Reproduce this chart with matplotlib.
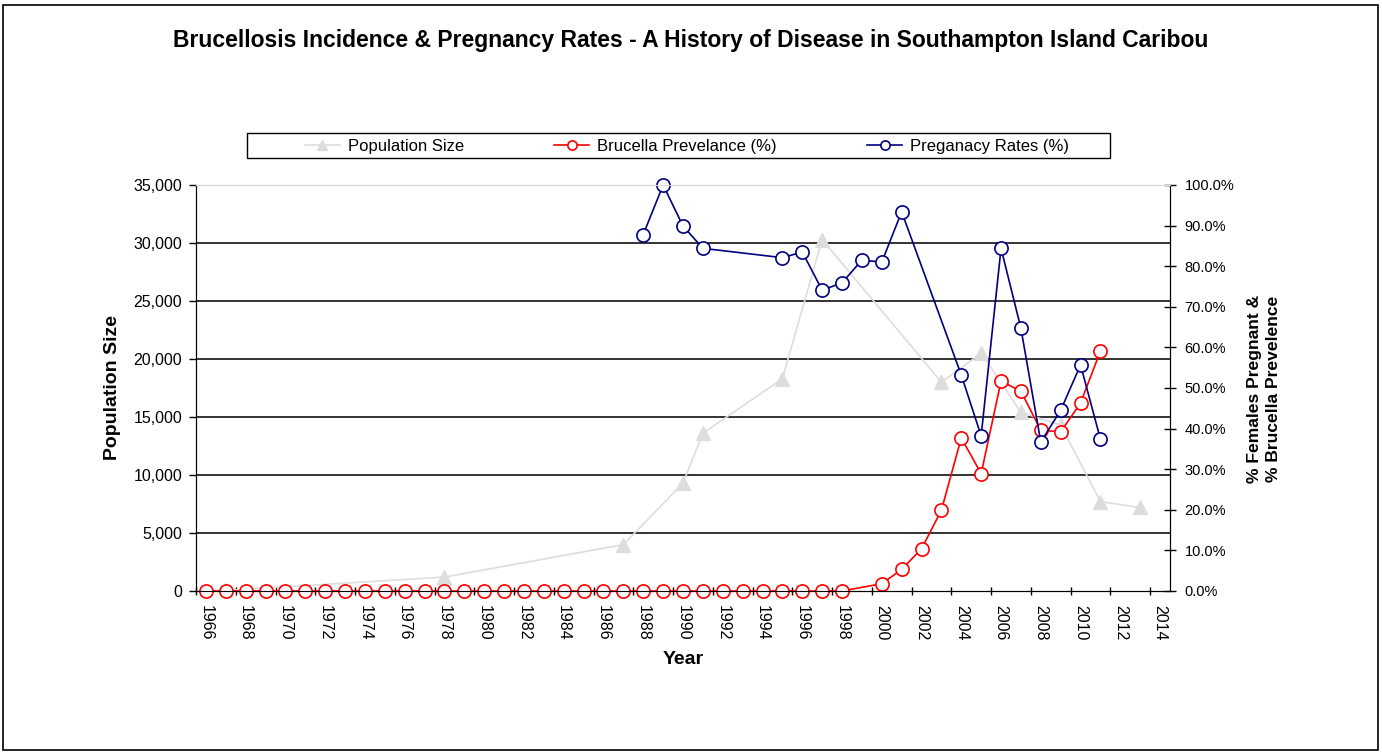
import matplotlib
matplotlib.use('Agg')
import matplotlib.pyplot as plt
from matplotlib.patches import Rectangle
from matplotlib.ticker import FuncFormatter, MultipleLocator

plt.rcParams['font.family'] = ['Liberation Sans', 'DejaVu Sans']

# category axis: one slot per year
year_labels = [1966, 1968, 1970, 1972, 1974, 1976, 1978, 1980, 1982, 1984, 1986, 1988,
               1990, 1992, 1994, 1996, 1998, 2000, 2002, 2004, 2006, 2008, 2010, 2012, 2014]

# population size (left axis)
pop_years = [1967, 1978, 1987, 1990, 1991, 1995, 1997, 2003, 2005, 2007, 2009, 2011, 2013]
pop_size = [48, 1200, 4000, 9300, 13600, 18300, 30300, 18000, 20500, 15400, 14300, 7700, 7200]

# brucella prevalence (%) (right axis)
bru_years = [1966, 1967, 1968, 1969, 1970, 1971, 1972, 1973, 1974, 1975, 1976, 1977,
             1978, 1979, 1980, 1981, 1982, 1983, 1984, 1985, 1986, 1987, 1988, 1989,
             1990, 1991, 1992, 1993, 1994, 1995, 1996, 1997, 1998,
             2000, 2001, 2002, 2003, 2004, 2005, 2006, 2007, 2008, 2009, 2010, 2011]
bru_prev = [0, 0, 0, 0, 0, 0, 0, 0, 0, 0, 0, 0,
            0, 0, 0, 0, 0, 0, 0, 0, 0, 0, 0, 0,
            0, 0, 0, 0, 0, 0, 0, 0, 0,
            1.8, 5.3, 10.4, 19.9, 37.7, 28.9, 51.7, 49.2, 39.6, 39.2, 46.3, 59.1]

# pregnancy rates (%) (right axis)
preg_years = [1988, 1989, 1990, 1991, 1995, 1996, 1997, 1998, 1999, 2000, 2001,
              2004, 2005, 2006, 2007, 2008, 2009, 2010, 2011]
preg_rate = [87.8, 100.0, 89.9, 84.4, 82.1, 83.5, 74.1, 75.9, 81.5, 81.0, 93.4,
             53.2, 38.2, 84.4, 64.7, 36.7, 44.5, 55.7, 37.4]

W, H = 1382, 753
fig = plt.figure(figsize=(W / 100, H / 100), dpi=100)
# outer chart border
fig.patches.append(Rectangle((3 / W, 3 / H), (W - 7) / W, (H - 8) / H, transform=fig.transFigure,
                             fill=False, edgecolor='black', linewidth=1.2))
# legend box
fig.patches.append(Rectangle((247 / W, 1 - 158 / H), (1110 - 247) / W, 25 / H, transform=fig.transFigure,
                             fill=False, edgecolor='black', linewidth=1.0))

ax = fig.add_axes([196 / W, 1 - 591 / H, (1170 - 196) / W, (591 - 185) / H])
ax2 = ax.twinx()

ax.plot(pop_years, pop_size, color='#dddddd', linewidth=1.2, marker='^', markersize=10,
        markerfacecolor='#dddddd', markeredgecolor='#dddddd', label='Population Size', zorder=3)
l2, = ax2.plot(bru_years, bru_prev, color='#ff0000', linewidth=1.2, marker='o', markersize=9.5,
               markerfacecolor='white', markeredgecolor='#ff0000', markeredgewidth=1.2,
               label='Brucella Prevelance (%)', clip_on=False)
l3, = ax2.plot(preg_years, preg_rate, color='#000080', linewidth=1.2, marker='o', markersize=9.5,
               markerfacecolor='white', markeredgecolor='#000080', markeredgewidth=1.2,
               label='Preganacy Rates (%)', clip_on=False)

ax.set_xlim(1965.5, 2014.5)
ax.set_ylim(0, 35000)
ax2.set_ylim(0, 100)

# x axis: labels at every second year, tick marks at category boundaries
ax.set_xticks(year_labels)
ax.set_xticklabels([str(y) for y in year_labels], rotation=-90, fontsize=11.5)
ax.tick_params(axis='x', which='major', length=0, pad=10)
ax.set_xticks([y - 0.5 for y in year_labels], minor=True)
ax.tick_params(axis='x', which='minor', length=6, direction='inout', width=1)

ax.yaxis.set_major_locator(MultipleLocator(5000))
ax.yaxis.set_major_formatter(FuncFormatter(lambda v, p: '{:,.0f}'.format(v)))
ax.tick_params(axis='y', length=5, direction='out', labelsize=11.5, width=1, pad=5)
ax2.yaxis.set_major_locator(MultipleLocator(10))
ax2.yaxis.set_major_formatter(FuncFormatter(lambda v, p: '{:.1f}%'.format(v)))
ax2.tick_params(axis='y', length=8, direction='inout', labelsize=10.5, width=1, pad=6.5)

for v in range(5000, 35000, 5000):
    ax.axhline(v, color='#333333', linewidth=1.4, zorder=1)

for a in (ax, ax2):
    a.spines['top'].set_color('#d9d9d9')
    a.spines['left'].set_color('black')
    a.spines['right'].set_color('black')
    a.spines['bottom'].set_color('black')
    a.patch.set_visible(False)

# titles
fig.text(691 / W, 1 - 40 / H, 'Brucellosis Incidence & Pregnancy Rates - A History of Disease in Southampton Island Caribou',
         ha='center', va='center', fontsize=16.5, fontweight='bold')
fig.text(683 / W, 1 - 660 / H, 'Year', ha='center', va='center', fontsize=14, fontweight='bold')
fig.text(113 / W, 1 - 388 / H, 'Population Size', ha='center', va='center', rotation=90,
         fontsize=14, fontweight='bold')
fig.text(1264 / W, 1 - 389 / H, '% Females Pregnant &\n% Brucella Prevelence', ha='center', va='center',
         rotation=90, fontsize=12.6, fontweight='bold', linespacing=1.3)

h1, lab1 = ax.get_legend_handles_labels()
leg = fig.legend(h1 + [l2, l3], lab1 + [l2.get_label(), l3.get_label()], ncol=3,
                 loc='center', bbox_to_anchor=(687 / W, 1 - 146 / H), fontsize=12, frameon=False,
                 handlelength=2.1, handletextpad=0.5, columnspacing=5.4, markerscale=0.7,
                 borderpad=0, borderaxespad=0)

fig.savefig('out.png', dpi=100)
